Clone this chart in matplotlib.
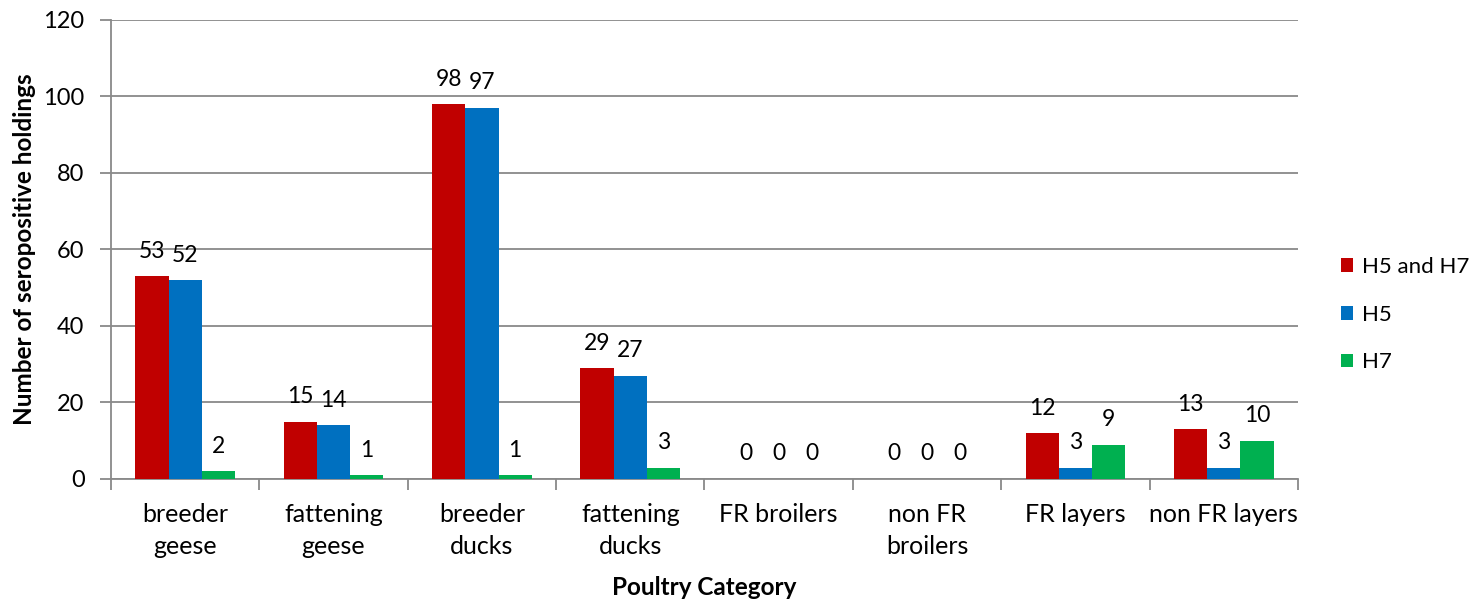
import numpy as np
import matplotlib.pyplot as plt

categories = ["breeder\ngeese", "fattening\ngeese", "breeder\nducks", "fattening\nducks",
              "FR broilers", "non FR\nbroilers", "FR layers", "non FR layers"]
h5_h7 = [53, 15, 98, 29, 0, 0, 12, 13]
h5 = [52, 14, 97, 27, 0, 0, 3, 3]
h7 = [2, 1, 1, 3, 0, 0, 9, 10]

series = [("H5 and H7", h5_h7, "#C00000"),
          ("H5", h5, "#0070C0"),
          ("H7", h7, "#00B050")]

plt.rcParams['font.family'] = ['Lato', 'DejaVu Sans']
grid_col = "#898989"

fig = plt.figure(figsize=(14.78, 6), dpi=100)
ax = fig.add_axes([0.0751, 0.2017, 0.8031, 0.765])

x = np.arange(len(categories)) + 0.5
w = 0.224
for i, (name, vals, col) in enumerate(series):
    pos = x + (i - 1) * w
    ax.bar(pos, vals, width=w, color=col, label=name, zorder=3)
    for p, v in zip(pos, vals):
        ax.annotate(str(v), (p, v), xytext=(0, 18), textcoords="offset points",
                    ha="center", va="center", fontsize=16.5)

ax.set_xlim(0, len(categories))
ax.set_ylim(0, 120)
ax.set_yticks(np.arange(0, 121, 20))
ax.yaxis.grid(True, color=grid_col, linewidth=1.3, zorder=0)

ax.set_xticks(np.arange(len(categories) + 1))
ax.set_xticklabels([])
ax.set_xticks(x, minor=True)
ax.set_xticklabels(categories, minor=True, fontsize=18, linespacing=1.5)
ax.tick_params(axis="x", which="major", length=8, width=1.3, color=grid_col)
ax.tick_params(axis="x", which="minor", length=0, pad=17)
ax.tick_params(axis="y", length=8, width=1.3, color=grid_col, labelsize=17, pad=11)

for s in ["top", "right"]:
    ax.spines[s].set_visible(False)
for s in ["left", "bottom"]:
    ax.spines[s].set_color(grid_col)
    ax.spines[s].set_linewidth(1.3)

ax.set_ylabel("Number of seropositive holdings", fontsize=17.5, fontweight="bold", labelpad=5)
ax.set_xlabel("Poultry Category", fontsize=17.5, fontweight="bold", labelpad=13)

ax.legend(loc="center left", bbox_to_anchor=(1.019, 0.358), frameon=False, fontsize=16,
          handlelength=0.57, handleheight=0.57, handletextpad=0.4, labelspacing=1.25)

fig.savefig("out.png", dpi=100)
